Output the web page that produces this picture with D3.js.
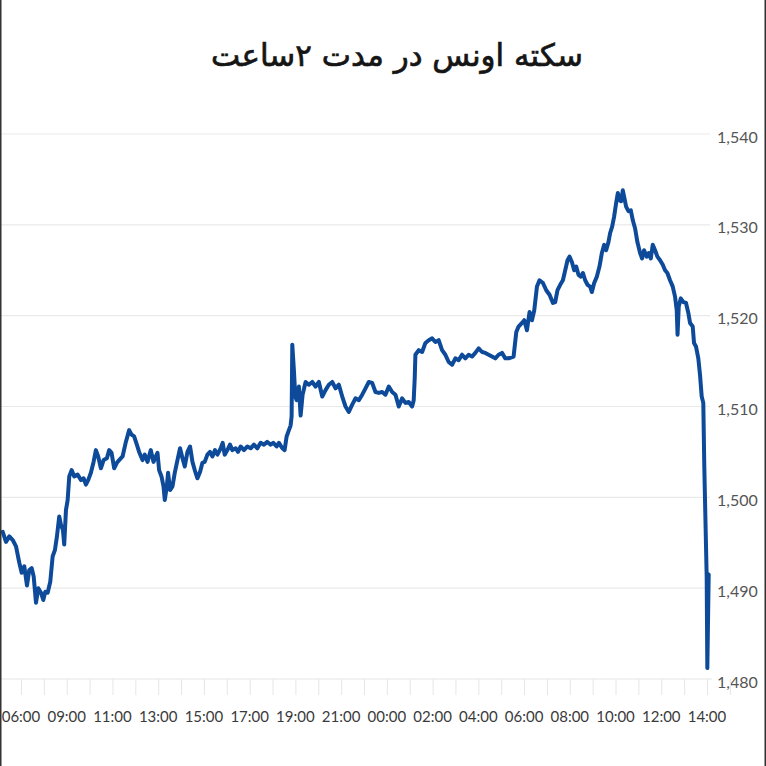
<!DOCTYPE html>
<html>
<head>
<meta charset="utf-8">
<script src="https://cdnjs.cloudflare.com/ajax/libs/d3/7.8.5/d3.min.js"></script>
<style>
  html, body { margin: 0; padding: 0; background: #fff; }
  svg { display: block; }
</style>
</head>
<body>
<script>
// ---- data ----
const chartTitle = "سکته اونس در مدت ۲ساعت";
const timeLabels = ["06:00","09:00","11:00","13:00","15:00","17:00","19:00","21:00","00:00","02:00","04:00","06:00","08:00","10:00","12:00","14:00"];
const priceTicks = [1480, 1490, 1500, 1510, 1520, 1530, 1540];
// position along the time axis, in label slots (0 = first label, 15 = last label)
const times = [
  -0.400,-0.328,-0.255,-0.181,-0.109,-0.037,0.015,0.072,0.131,0.181,0.234,0.277,0.328,0.378,0.437,0.487,
  0.531,0.583,0.640,0.692,0.742,0.786,0.836,0.873,0.917,0.945,0.983,1.020,1.055,1.107,1.164,1.238,1.310,
  1.369,1.419,1.469,1.528,1.587,1.638,1.688,1.747,1.806,1.878,1.928,1.980,2.037,2.096,2.146,2.221,2.293,
  2.365,2.417,2.474,2.533,2.583,2.657,2.707,2.766,2.838,2.897,2.948,
  2.985,3.020,3.072,3.116,3.144,3.188,3.216,3.260,3.312,3.362,3.421,3.478,3.531,3.581,3.640,3.697,3.749,
  3.799,3.858,3.915,3.967,4.017,4.076,4.133,4.186,4.242,4.295,4.367,4.410,4.454,4.513,4.570,4.622,4.694,
  4.745,4.803,4.876,4.950,5.022,5.094,5.168,5.240,5.312,5.386,5.459,5.517,5.590,5.640,5.714,5.764,5.808,
  5.858,5.895,5.917,
  5.932,5.967,5.998,6.026,6.076,6.114,6.157,6.223,6.295,6.369,6.441,6.513,6.587,6.659,6.731,6.806,6.878,
  6.950,7.024,7.096,7.168,7.242,7.314,7.387,7.461,7.533,7.605,7.679,7.751,7.823,7.897,7.969,8.042,8.116,
  8.188,8.260,8.334,8.406,8.478,8.552,8.587,
  8.609,8.624,8.697,8.771,8.843,8.915,8.989,9.061,9.133,9.207,9.279,9.352,9.426,9.498,9.570,9.644,9.716,
  9.788,9.862,9.934,10.007,10.081,10.153,10.225,10.299,10.371,10.443,10.517,10.590,10.662,10.771,10.830,
  10.880,10.954,11.004,11.063,11.120,11.173,11.223,11.282,11.338,11.413,11.485,11.557,
  11.631,11.681,11.731,11.790,11.849,11.900,11.950,11.993,12.046,12.096,12.140,12.190,12.242,12.286,12.336,
  12.387,12.445,12.483,12.533,12.592,12.649,12.701,12.751,12.795,12.845,12.882,12.926,12.969,13.013,13.050,
  13.085,13.122,13.159,13.188,13.231,13.282,13.334,13.378,13.428,13.478,13.537,13.581,13.624,13.683,13.727,
  13.771,13.814,13.865,13.915,13.974,14.033,14.083,14.133,14.192,14.251,14.301,14.338,14.356,14.382,14.426,
  14.483,14.541,14.592,14.629,14.688,14.716,14.760,14.810,14.847,14.884,14.919,14.941,14.972,14.993,15.007,15.037
];
const prices = [
  1496.2,1495.1,1495.7,1495.3,1494.6,1492.8,1491.7,1492.4,1490.3,1492.0,1492.2,1491.3,1488.4,1490.0,1489.5,1488.7,
  1489.6,1489.5,1490.7,1493.5,1494.2,1495.7,1497.9,1497.0,1496.4,1494.8,1498.6,1499.7,1502.3,1503.0,1502.3,1502.5,1501.9,
  1502.1,1501.4,1501.9,1502.7,1503.9,1505.2,1504.5,1503.2,1504.1,1504.3,1505.2,1504.9,1503.2,1503.8,1504.1,1504.5,1506.1,
  1507.4,1506.9,1506.7,1505.8,1505.0,1504.1,1504.7,1503.9,1505.2,1503.9,1504.5,
  1504.9,1503.0,1502.3,1501.2,1499.7,1501.2,1502.7,1500.8,1501.2,1502.7,1504.1,1505.4,1504.3,1503.4,1505.0,1505.6,1503.9,
  1503.0,1502.1,1502.8,1503.8,1503.9,1504.7,1505.0,1504.5,1505.2,1504.7,1505.4,1506.0,1504.7,1505.2,1505.8,1505.2,1505.4,
  1505.0,1505.6,1505.2,1505.6,1505.4,1505.8,1505.4,1506.0,1505.8,1506.1,1505.8,1506.0,1505.6,1506.0,1505.4,1505.2,1506.7,
  1507.4,1507.9,1508.9,
  1516.8,1514.0,1511.1,1510.7,1512.2,1509.0,1511.3,1512.7,1512.4,1512.7,1512.2,1512.7,1511.1,1511.8,1512.4,1512.7,1512.0,
  1512.4,1511.1,1510.0,1509.4,1510.2,1510.9,1510.7,1511.3,1512.0,1512.7,1512.6,1511.6,1511.5,1511.6,1511.3,1512.2,1511.6,
  1511.3,1510.0,1510.9,1510.4,1510.5,1510.0,1510.7,
  1513.1,1515.7,1516.2,1516.0,1517.0,1517.3,1517.5,1517.1,1517.3,1516.2,1515.7,1514.9,1514.6,1515.3,1515.1,1515.7,1515.3,
  1515.7,1515.5,1515.9,1516.4,1516.0,1515.9,1515.7,1515.5,1515.3,1515.7,1515.9,1515.3,1515.3,1515.5,1518.2,
  1518.8,1519.2,1519.5,1518.4,1520.4,1519.5,1520.6,1523.2,1523.9,1523.6,1522.8,1522.3,
  1521.4,1521.5,1522.8,1523.4,1523.9,1525.0,1526.1,1526.5,1525.9,1525.0,1525.4,1524.5,1524.3,1524.7,1523.9,
  1523.4,1523.2,1522.6,1523.6,1524.3,1525.4,1526.9,1527.8,1527.2,1528.1,1529.1,1529.8,1530.9,1532.4,1533.5,
  1532.7,1532.6,1533.8,1533.1,1532.0,1531.5,1531.6,1530.5,1529.6,1528.1,1526.9,1526.3,1527.2,1526.5,1526.9,
  1526.3,1527.8,1527.2,1526.5,1526.1,1525.6,1525.0,1524.7,1523.9,1523.2,1522.1,1520.6,1517.9,1521.0,1521.9,
  1521.5,1521.4,1520.3,1519.2,1518.8,1517.0,1516.6,1515.3,1513.5,1511.1,1510.4,1503.4,1496.1,1491.3,1481.2,1491.5
];

// ---- layout ----
const W = 766, H = 766;
const svg = d3.select("body").append("svg").attr("width", W).attr("height", H);

const x = d3.scaleLinear().domain([0, timeLabels.length - 1]).range([21, 707]);
const y = d3.scaleLinear().domain([1480, 1540]).range([679, 134]);

// title
svg.append("text")
  .attr("x", 397).attr("y", 66)
  .attr("text-anchor", "middle")
  .attr("direction", "rtl")
  .attr("font-family", "'DejaVu Sans', 'Noto Sans', sans-serif")
  .attr("font-size", 31)
  .attr("font-weight", "normal")
  .attr("fill", "#151515")
  .attr("stroke", "#151515")
  .attr("stroke-width", 0.7)
  .text(chartTitle);

// horizontal gridlines
svg.append("g").selectAll("line")
  .data(priceTicks.slice(1))
  .join("line")
  .attr("x1", 0).attr("x2", 710)
  .attr("y1", d => y(d)).attr("y2", d => y(d))
  .attr("stroke", "#e9e9e9").attr("stroke-width", 1.2);

// right price axis
const yAxis = d3.axisRight(y).tickValues(priceTicks).tickSize(0).tickPadding(0)
  .tickFormat(d3.format(","));
svg.append("g")
  .attr("transform", "translate(717,3)")
  .call(yAxis)
  .call(g => g.select(".domain").remove())
  .call(g => g.selectAll("text")
    .attr("font-family", "Lato, 'Open Sans', sans-serif")
    .attr("font-size", 16)
    .attr("fill", "#555"));

// bottom time axis
const halfSteps = d3.range(0, timeLabels.length - 0.5 + 0.01, 0.5);
const xAxisG = svg.append("g").attr("transform", "translate(0,679)");
xAxisG.append("line").attr("x1", 0).attr("x2", 712).attr("y1", 0).attr("y2", 0)
  .attr("stroke", "#dcdcdc").attr("stroke-width", 1.2);
xAxisG.call(d3.axisBottom(x).tickValues(halfSteps).tickSize(16).tickFormat(""))
  .call(g => g.select(".domain").remove())
  .call(g => g.selectAll("line").attr("stroke", "#e6e6e6"));
svg.append("g").selectAll("text")
  .data(timeLabels)
  .join("text")
  .attr("x", (d, i) => x(i))
  .attr("y", 722)
  .attr("text-anchor", "middle")
  .attr("font-family", "Lato, 'Open Sans', sans-serif")
  .attr("font-size", 15)
  .attr("fill", "#3a3a3a")
  .text(d => d);

// price line
const pts = d3.zip(times, prices);
const line = d3.line().x(d => x(d[0])).y(d => y(d[1]));
svg.append("path")
  .datum(pts)
  .attr("d", line)
  .attr("fill", "none")
  .attr("stroke", "#0d4a9a")
  .attr("stroke-width", 4)
  .attr("stroke-linejoin", "round")
  .attr("stroke-linecap", "round");

// frame edges
svg.append("line").attr("x1", 0.75).attr("x2", 0.75).attr("y1", 0).attr("y2", H)
  .attr("stroke", "#333").attr("stroke-width", 1.5);
svg.append("line").attr("x1", W - 0.75).attr("x2", W - 0.75).attr("y1", 0).attr("y2", H)
  .attr("stroke", "#333").attr("stroke-width", 1.5);
</script>
</body>
</html>
